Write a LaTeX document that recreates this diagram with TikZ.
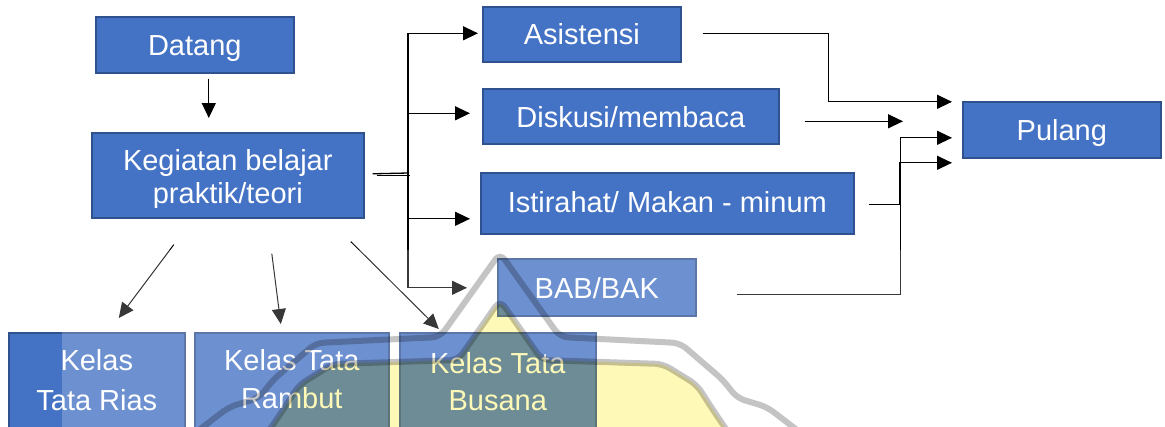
\documentclass[tikz,border=0pt]{standalone}
\usepackage{fontspec}
\setmainfont{Liberation Sans}
\usetikzlibrary{arrows.meta,calc}
\definecolor{boxfill}{HTML}{4472C4}
\definecolor{boxline}{HTML}{2F528F}
\definecolor{wmgray}{RGB}{196,196,196}
\definecolor{wmyellow}{RGB}{255,249,184}
\tikzset{
  box/.style={draw=boxline, line width=1.6pt, fill=boxfill, inner sep=0pt, anchor=north west},
  lbl/.style={text=white, font=\fontsize{29}{33}\selectfont, inner sep=0pt, anchor=base},
  ln/.style={draw=black, line width=1.3pt},
  arr/.style={ln, -{Triangle[length=15pt,width=14pt]}},
  wmline/.style={draw=wmgray, line width=6pt, line join=round, rounded corners=8pt},
}
\begin{document}
\begin{tikzpicture}[x=1pt, y=-1pt]
\useasboundingbox (0,0) rectangle (1165,426);
\fill[white] (0,0) rectangle (1165,426);

% boxes
\node[box, minimum width=198pt, minimum height=56pt] (datang) at (95,16) {};
\node[box, minimum width=272pt, minimum height=85pt] (keg) at (91,132) {};
\node[box, minimum width=198pt, minimum height=55pt] (asis) at (482,6) {};
\node[box, minimum width=296pt, minimum height=55pt] (disk) at (482,88) {};
\node[box, minimum width=373pt, minimum height=61pt] (isti) at (480,172) {};
\node[box, minimum width=198pt, minimum height=57pt] (bab) at (497,258) {};
\node[box, minimum width=198pt, minimum height=56pt] (pulang) at (962,101) {};
\node[box, minimum width=176pt, minimum height=100pt] (rias) at (8,332) {};
\node[box, minimum width=194pt, minimum height=100pt] (rambut) at (194,332) {};
\node[box, minimum width=196pt, minimum height=100pt] (busana) at (399,332) {};

% labels (some are cut off by their text frames)
\begin{scope}
  \clip (datang.north west) rectangle ($(datang.south east)+(0,-12.5)$);
  \node[lbl] (tDatang) at ($(datang.center)+(0,11)$) {Datang};
\end{scope}
\node[lbl] (tKeg1) at ($(keg.center)+(0,-4.5)$) {Kegiatan belajar};
\begin{scope}
  \clip (keg.north west) rectangle ($(keg.south east)+(0,-11.5)$);
  \node[lbl] (tKeg2) at ($(keg.center)+(0,28.5)$) {praktik/teori};
\end{scope}
\node[lbl] (tAsis) at ($(asis.center)+(0,10.5)$) {Asistensi};
\node[lbl] (tDisk) at ($(disk.center)+(0,11.5)$) {Diskusi/membaca};
\node[lbl] (tIsti) at ($(isti.center)+(0,9.5)$) {Istirahat/ Makan - minum};
\node[lbl] (tBab) at ($(bab.center)+(0,11.5)$) {BAB/BAK};
\begin{scope}
  \clip (pulang.north west) rectangle ($(pulang.south east)+(0,-13)$);
  \node[lbl] (tPulang) at ($(pulang.center)+(0,11)$) {Pulang};
\end{scope}
\node[lbl] (tRias1) at ($(rias.center)+(0,-12)$) {Kelas};
\node[lbl] (tRias2) at ($(rias.center)+(0,28)$) {Tata Rias};
\node[lbl] (tRambut1) at ($(rambut.center)+(0,-12)$) {Kelas Tata};
\node[lbl] (tRambut2) at ($(rambut.center)+(0,26)$) {Rambut};
\node[lbl] (tBusana1) at ($(busana.center)+(0,-9)$) {Kelas Tata};
\node[lbl] (tBusana2) at ($(busana.center)+(0,28)$) {Busana};

% connectors
\coordinate (hub) at (408,173);
\draw[arr] ($(datang.south)+(14,5)$) -- ($(keg.north)+(-19,-14)$);
\draw[ln] ($(keg.east)+(8,-1.5)$) -- (hub);
\draw[ln] ($(keg.east)+(12,0)$) -- ($(keg.east)+(45,0)$);
\draw[arr] (hub) |- ($(asis.west)+(-4,-1)$);
\draw[arr] (hub) |- ($(disk.west)+(-12,-3)$);
\draw[arr] (hub) |- ($(isti.west)+(-10,15.5)$);
\draw[arr] (hub) |- ($(bab.west)+(-30,0.5)$);

\draw[arr] ($(asis.east)+(21,-1)$) -- ++(126,0) |- ($(pulang.west)+(-10,-28)$);
\draw[arr] ($(disk.east)+(25,5)$) -- ($(pulang.west)+(-59,-8.5)$);
\draw[arr] ($(isti.east)+(14,1.5)$) -- ++(31,0) |- ($(pulang.west)+(-10,33)$);
\draw[arr] ($(bab.east)+(40,7)$) -- ++(164,0) |- ($(pulang.west)+(-10,8)$);

\draw[arr, line width=1pt] ($(keg.south)+(-54,26)$) -- ($(rias.north)+(22,-14)$);
\draw[arr, line width=1pt] ($(keg.south)+(44,35)$) -- ($(rambut.north)+(-11,-8)$);
\draw[arr, line width=1pt] ($(keg.south)+(123,23)$) -- ($(busana.north)+(-59,-3)$);

% faded lower band
\fill[white, fill opacity=0.22] (62,250) rectangle (1165,432);

% background emblem
\begin{scope}[blend mode=multiply]
  \fill[wmyellow, rounded corners=8pt] (268,432) -- (283,410) -- (299,385) -- (333,364) -- (458,360)
    -- (500,300) -- (542,360) -- (663,364) -- (697,385) -- (713,410) -- (728,432) -- cycle;
  \draw[wmline] (268,432) -- (283,410) -- (299,385) -- (333,364) -- (458,360)
    -- (500,300) -- (542,360) -- (663,364) -- (697,385) -- (713,410) -- (728,432);
  \draw[wmline] (199,430) -- (229,407) -- (259,398) -- (273,380) -- (316,343) -- (440,337)
    -- (500,253) -- (560,337) -- (680,343) -- (723,380) -- (737,398) -- (767,407) -- (797,430);
\end{scope}
\end{tikzpicture}
\end{document}
